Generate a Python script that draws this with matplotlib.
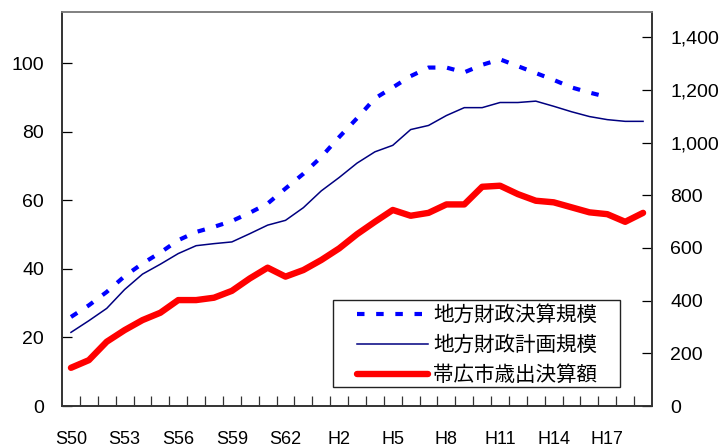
import matplotlib
matplotlib.use('Agg')
import matplotlib.pyplot as plt
from matplotlib.patches import Rectangle
from matplotlib.ticker import FixedLocator, FuncFormatter

# 年度ラベル（S50〜H19）
years = ['S50', 'S51', 'S52', 'S53', 'S54', 'S55', 'S56', 'S57', 'S58', 'S59', 'S60',
         'S61', 'S62', 'S63', 'H1', 'H2', 'H3', 'H4', 'H5', 'H6', 'H7', 'H8', 'H9',
         'H10', 'H11', 'H12', 'H13', 'H14', 'H15', 'H16', 'H17', 'H18', 'H19']
tick_labels = ['S50', 'S53', 'S56', 'S59', 'S62', 'H2', 'H5', 'H8', 'H11', 'H14', 'H17']

# 地方財政決算規模（兆円, 左軸）S50〜H17
kessan = [26.0, 29.4, 33.3, 37.9, 41.6, 44.8, 48.4, 50.8, 52.3, 54.0, 56.4,
          59.1, 63.5, 67.8, 72.7, 78.5, 84.0, 89.8, 93.0, 96.3, 98.8, 98.8, 97.4,
          99.6, 101.2, 99.2, 97.2, 95.2, 93.0, 91.5, 90.2]
# 地方財政計画規模（兆円, 左軸）
keikaku = [21.5, 24.9, 28.5, 34.0, 38.5, 41.4, 44.5, 46.8, 47.4, 47.9, 50.3,
           52.8, 54.2, 57.9, 62.8, 66.7, 70.9, 74.2, 76.1, 80.7, 81.9, 84.8, 87.1,
           87.1, 88.6, 88.6, 89.0, 87.5, 85.9, 84.5, 83.6, 83.1, 83.1]
# 帯広市歳出決算額（億円, 右軸）
obihiro = [145, 174, 244, 288, 326, 354, 402, 402, 411, 437, 484,
           525, 491, 516, 554, 598, 652, 699, 744, 722, 733, 765, 765,
           832, 836, 804, 779, 773, 754, 735, 728, 699, 733]

plt.rcParams['font.family'] = ['Liberation Sans', 'Noto Sans CJK JP', 'DejaVu Sans']

fig = plt.figure(figsize=(7.23, 4.47), dpi=100)
ax = fig.add_axes([0.0858, 0.0917, 0.816, 0.8813])
ax2 = ax.twinx()

x_all = list(range(len(years)))
l1, = ax.plot(x_all[:len(kessan)], kessan, color='#0000FF', lw=3,
              linestyle=(0, (1.8, 2.8)), label='地方財政決算規模')
l2, = ax.plot(x_all, keikaku, color='#000080', lw=1.1, label='地方財政計画規模')
l3, = ax2.plot(x_all, obihiro, color='#FF0000', lw=4.6, solid_capstyle='round',
               solid_joinstyle='round', label='帯広市歳出決算額')

ax.set_xlim(-0.5, len(years) - 0.5)
ax.set_ylim(0, 115)
ax2.set_ylim(0, 1495)

ax.set_yticks(range(0, 101, 20))
ax2.set_yticks(range(0, 1401, 200))
ax2.yaxis.set_major_formatter(FuncFormatter(lambda v, p: f'{int(v):,}'))

pos = [years.index(t) for t in tick_labels]
ax.set_xticks(pos)
ax.set_xticklabels(tick_labels)
ax.xaxis.set_minor_locator(FixedLocator([i + 0.5 for i in range(len(years) - 1)]))

ax.tick_params(axis='x', which='major', length=0, pad=18, labelsize=13)
ax.tick_params(axis='x', which='minor', direction='in', length=7, width=0.9, color='#333333')
ax.tick_params(axis='y', direction='in', length=7, width=0.9, pad=13, labelsize=14)
ax2.tick_params(axis='y', direction='in', length=7, width=0.9, pad=13, labelsize=14)

for a in (ax, ax2):
    for s in ['left', 'right', 'bottom']:
        a.spines[s].set_color('#333333')
        a.spines[s].set_linewidth(1.2)
    a.spines['top'].set_color('#808080')
    a.spines['top'].set_linewidth(1.2)

# 凡例（枠は別に描く）
leg = fig.legend(handles=[l1, l2, l3], loc='center left', bbox_to_anchor=(0.4934, 0.2282),
                 prop={'family': 'Noto Sans CJK JP', 'size': 14.8}, frameon=False,
                 handlelength=3.48, handletextpad=0.24, labelspacing=0.4,
                 borderpad=0, borderaxespad=0)
frame = Rectangle((0.4606, 0.1342), 0.397, 0.1946, transform=fig.transFigure,
                  facecolor='white', edgecolor='#222222', lw=1.0, zorder=4)
fig.add_artist(frame)
leg.set_zorder(5)

plt.savefig('out.png', dpi=100)
